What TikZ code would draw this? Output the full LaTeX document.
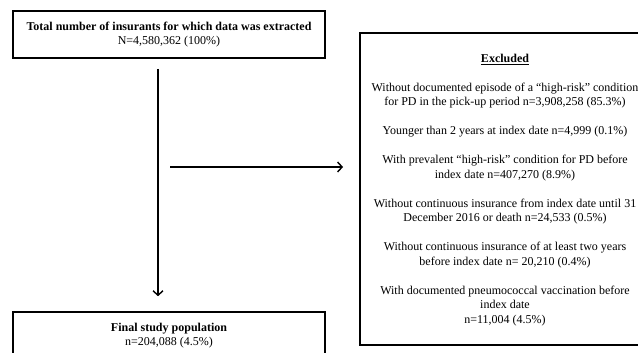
\documentclass[tikz,border=0pt]{standalone}
\usepackage{fontspec}
\setmainfont{Liberation Serif}
\usepackage{tikz}
\usetikzlibrary{arrows.meta,positioning}

\begin{document}
\begin{tikzpicture}[x=1pt,y=-1pt,
    flowbox/.style={draw,line width=1.6pt,align=center,inner sep=0pt,font=\fontsize{12}{14.5}\selectfont},
    flowarrow/.style={line width=1.4pt,-{Straight Barb[length=4.5pt,width=10pt]}}]
  \path[use as bounding box,clip] (0,0) rectangle (638,353);
  \node[flowbox,minimum width=312pt,minimum height=47pt] (total) at (169,34.5) {\textbf{Total number of insurants for which data was extracted}\\N=4,580,362 (100\%)};
  \node[flowbox,minimum width=312pt,minimum height=47pt] (final) at (169,335.5) {\textbf{Final study population}\\n=204,088 (4.5\%)};
  \coordinate (exnw) at (360,33);
  \coordinate (exse) at (670,345);
  \draw[line width=1.6pt] (exnw) rectangle (exse);
  \node[flowbox,draw=none] (excl) at (505,190) {\underline{\textbf{Excluded}}\\[14.5pt]
    Without documented episode of a ``high-risk'' condition\\for PD in the pick-up period n=3,908,258 (85.3\%)\\[14.5pt]
    Younger than 2 years at index date n=4,999 (0.1\%)\\[14.5pt]
    With prevalent ``high-risk'' condition for PD before\\index date n=407,270 (8.9\%)\\[14.5pt]
    Without continuous insurance from index date until 31\\December 2016 or death n=24,533 (0.5\%)\\[14.5pt]
    Without continuous insurance of at least two years\\before index date n= 20,210 (0.4\%)\\[14.5pt]
    With documented pneumococcal vaccination before\\index date\\n=11,004 (4.5\%)};
  \coordinate (split) at (158,167);
  \draw[flowarrow,shorten <=10pt,shorten >=15pt] ([xshift=-11pt]total.south) -- ([xshift=-11pt]final.north);
  \draw[flowarrow,shorten <=12pt,shorten >=17pt] (split) -- (split -| exnw);
\end{tikzpicture}
\end{document}
